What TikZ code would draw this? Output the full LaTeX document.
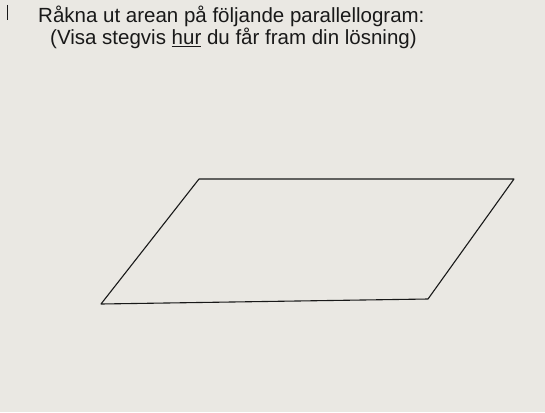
\documentclass[tikz,border=0pt]{standalone}
\usepackage{fontspec}
\setmainfont{Liberation Sans}
\definecolor{paper}{RGB}{234,232,227}
\definecolor{ink}{RGB}{25,25,25}
\tikzset{
  hand/.style={anchor=base west, inner sep=0pt, text=ink, font=\fontsize{20.5}{24}\selectfont},
  edge/.style={draw=ink, line width=1.1pt, line join=round}
}
\begin{document}
\begin{tikzpicture}[x=1pt,y=-1pt]
\fill[paper] (0,0) rectangle (545,412);
\useasboundingbox (0,0) rectangle (545,412);
\draw[ink, line width=1pt] (7,5) -- (7,20);
\node[hand] (l1) at (38,23) {Råkna ut arean på följande parallellogram:};
\node[hand] (l2) at (50,45) {(Visa stegvis \underline{hur} du får fram din lösning)};
\coordinate (tl) at (199,179);
\coordinate (tr) at (514,179);
\coordinate (br) at (428,299);
\coordinate (bl) at (101,304);
\draw[edge] (tl) -- (tr) -- (br) -- (bl) -- cycle;
\end{tikzpicture}
\end{document}
